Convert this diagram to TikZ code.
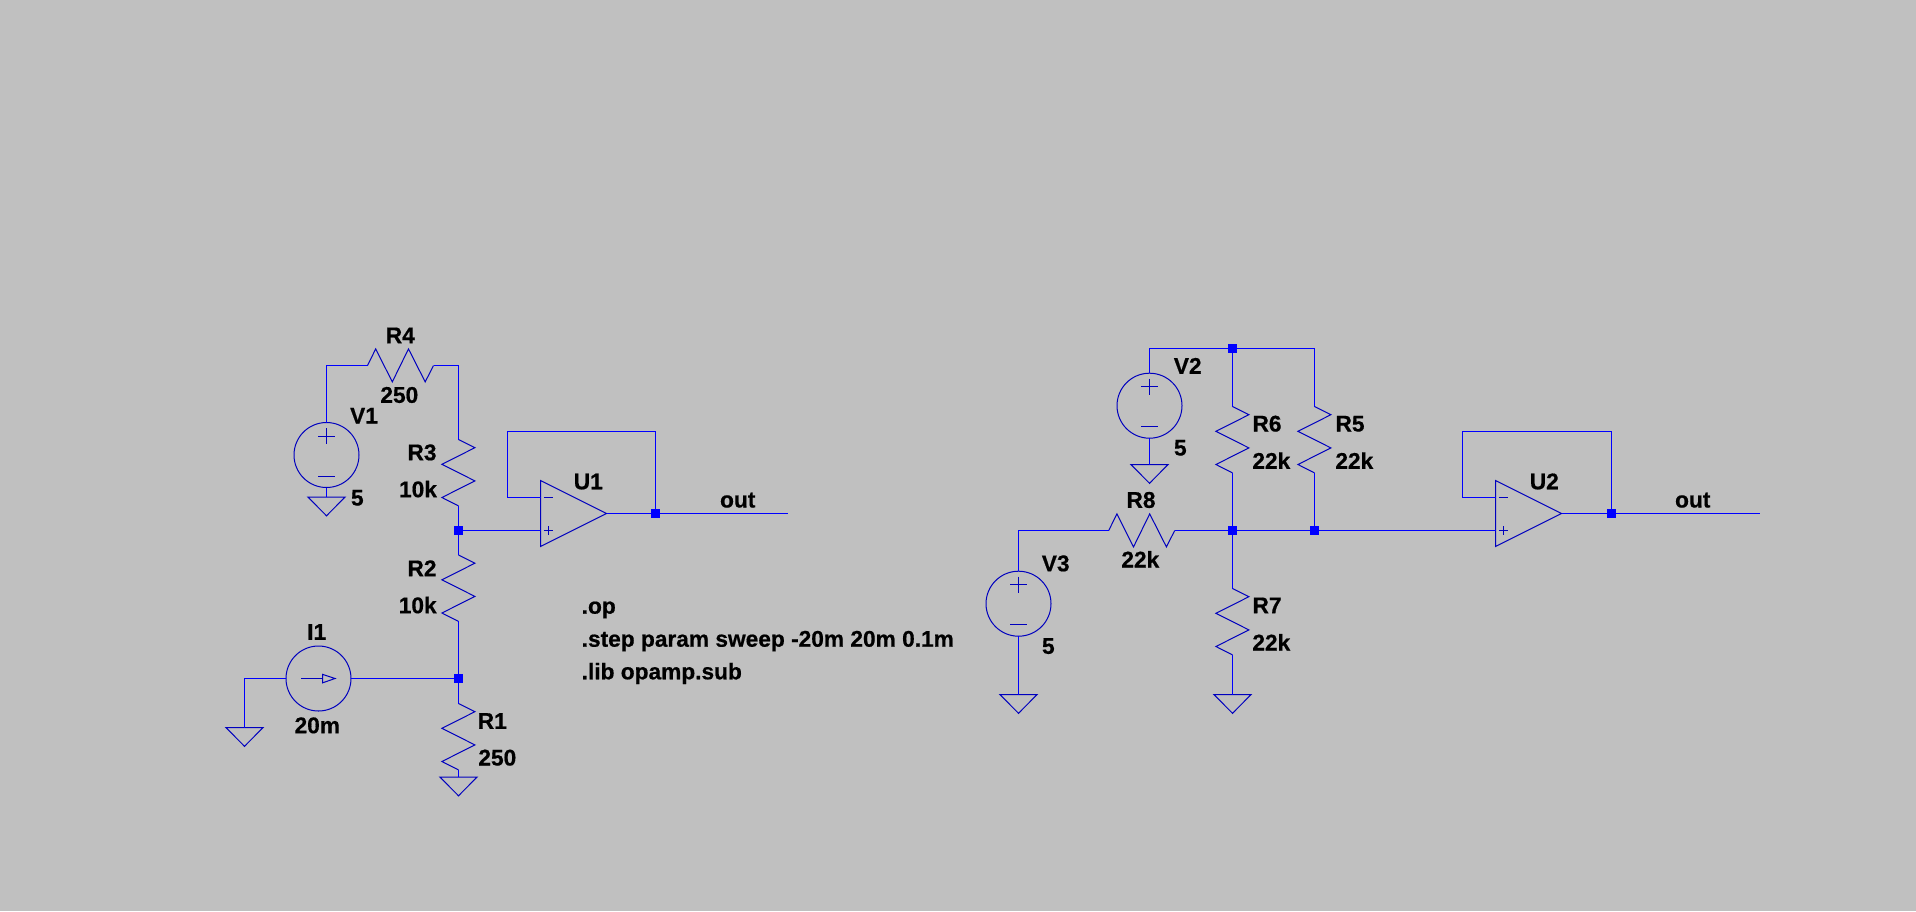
\documentclass[tikz,border=0pt]{standalone}
\usepackage{fontspec}
\setmainfont[BoldFeatures={FakeBold=0.6}]{Liberation Sans}
\definecolor{bg}{RGB}{192,192,192}
\definecolor{wirec}{RGB}{0,0,255}
\definecolor{symc}{RGB}{0,0,190}
\tikzset{
  wire/.style={draw=wirec,line width=1.4pt,line join=miter},
  sym/.style={draw=symc,line width=1pt,line join=miter},
  dotj/.style={rectangle,fill=wirec,minimum size=9pt,inner sep=0pt,outer sep=0pt},
  lab/.style={anchor=base,inner sep=0pt,outer sep=0pt,font=\fontsize{22.7}{24}\selectfont\bfseries,text=black},
  dirl/.style={anchor=base west,inner sep=0pt,outer sep=0pt,font=\fontsize{22.7}{24}\selectfont\bfseries,text=black}
}
% vertical resistor: name, x, top y
\newcommand{\vres}[3]{%
  \coordinate (#1a) at (#2,#3);
  \coordinate (#1b) at (#2,#3+66.4);
  \draw[sym] (#2,#3) -- (#2+16.4,#3+8.2) -- (#2-16.6,#3+24.8) -- (#2+16.4,#3+41.4) -- (#2-16.6,#3+58) -- (#2,#3+66.4);
}
% horizontal resistor: name, left x, y
\newcommand{\hres}[3]{%
  \coordinate (#1a) at (#2,#3);
  \coordinate (#1b) at (#2+66,#3);
  \draw[sym] (#2,#3) -- (#2+8.2,#3-16.6) -- (#2+24.8,#3+16.4) -- (#2+41,#3-16.6) -- (#2+57.7,#3+16.4) -- (#2+66,#3);
}
% ground: name, x, top y
\newcommand{\gnd}[3]{%
  \coordinate (#1) at (#2,#3);
  \draw[sym] (#2-18.6,#3) -- (#2+18.6,#3) -- (#2,#3+18.8) -- cycle;
}
% voltage source: name, x, centre y
\newcommand{\vsrc}[3]{%
  \node[circle,sym,minimum size=65pt,inner sep=0pt,outer sep=0pt] (#1) at (#2,#3) {};
  \draw[sym] (#2-8.3,#3-19) -- (#2+8.3,#3-19) (#2,#3-27) -- (#2,#3-11);
  \draw[sym] (#2-8.3,#3+21) -- (#2+8.3,#3+21);
}
% opamp: name, left x
\newcommand{\opamp}[2]{%
  \coordinate (#1p) at (#2,530.5);
  \coordinate (#1m) at (#2,497.5);
  \coordinate (#1o) at (#2+66,513.5);
  \draw[sym] (#2,480.5) -- (#2+66,513.5) -- (#2,546.5) -- cycle;
  \draw[sym] (#2+3.4,497.5) -- (#2+12.4,497.5);
  \draw[sym] (#2+3.4,530.5) -- (#2+12.4,530.5) (#2+7.9,526) -- (#2+7.9,535);
}
\begin{document}
\begin{tikzpicture}[x=1pt,y=-1pt]
\useasboundingbox (0,0) rectangle (1916,911);
\fill[bg] (0,0) rectangle (1916,911);

% ---------- left circuit
\vsrc{V1}{326.5}{455}
\gnd{G1}{326.5}{497}
\hres{R4}{367.5}{365.5}
\vres{R3}{458.5}{439.5}
\vres{R2}{458.5}{555}
\vres{R1}{458.5}{703.5}
\gnd{G2}{458.5}{777}
\gnd{G3}{244.5}{727.5}
\opamp{U1}{540.5}
\node[circle,sym,minimum size=65pt,inner sep=0pt,outer sep=0pt] (I1) at (318.5,678.5) {};
\draw[sym] (301,678.5) -- (322.7,678.5);
\draw[sym] (322.7,674.4) -- (335,678.5) -- (322.7,682.8) -- cycle;

\node[dotj] (J1) at (458.5,530.5) {};
\node[dotj] (J2) at (458.5,678.5) {};
\node[dotj] (J3) at (655.5,513.5) {};
\coordinate (O1) at (787.7,513.5);

\draw[wire] (V1.north) |- (R4a);
\draw[wire] (R4b) -| (R3a);
\draw[wire] (V1.south) -- (G1);
\draw[wire] (R3b) -- (J1.center);
\draw[wire] (J1.center) -- (R2a);
\draw[wire] (R2b) -- (J2.center);
\draw[wire] (J2.center) -- (R1a);
\draw[wire] (R1b) -- (G2);
\draw[wire] (J1.center) -- (U1p);
\draw[wire] (U1m) -- (507.5,497.5) |- (655.5,431.5) -- (J3.center);
\draw[wire] (U1o) -- (J3.center);
\draw[wire] (J3.center) -- (O1);
\draw[wire] (I1.east) -- (J2.center);
\draw[wire] (I1.west) -| (G3);

\node[lab] (tR4) at (400.3,343.2) {R4};
\node[lab] (tR4v) at (399.3,402.8) {250};
\node[lab] (tV1) at (364,423.5) {V1};
\node[lab] (tV1v) at (357.3,505.5) {5};
\node[lab] (tR3) at (422,460.2) {R3};
\node[lab] (tR3v) at (418,497.2) {10k};
\node[lab] (tR2) at (422,576.2) {R2};
\node[lab] (tR2v) at (417.7,613.2) {10k};
\node[lab] (tR1) at (492.3,728.8) {R1};
\node[lab] (tR1v) at (497.3,765.5) {250};
\node[lab] (tI1) at (316.7,639.8) {I1};
\node[lab] (tI1v) at (317.3,733.2) {20m};
\node[lab] (tU1) at (588.3,489.3) {U1};
\node[lab] (tO1) at (737.7,507.5) {out};
\node[dirl] (d1) at (581.7,613.7) {.op};
\node[dirl] (d2) at (581.7,646.7) {.step param sweep -20m 20m 0.1m};
\node[dirl] (d3) at (581.7,679.3) {.lib opamp.sub};

% ---------- right circuit
\vsrc{V2}{1149.5}{405.7}
\gnd{G4}{1149.5}{464.5}
\vres{R6}{1232.5}{406.5}
\vres{R5}{1314.5}{406.5}
\hres{R8}{1108.7}{530.5}
\vres{R7}{1232.5}{588.5}
\gnd{G5}{1232.5}{694.5}
\vsrc{V3}{1018.5}{603.7}
\gnd{G6}{1018.5}{694.5}
\opamp{U2}{1495.5}

\node[dotj] (J4) at (1232.5,348.5) {};
\node[dotj] (J5) at (1232.5,530.5) {};
\node[dotj] (J6) at (1314.5,530.5) {};
\node[dotj] (J7) at (1611.5,513.5) {};
\coordinate (O2) at (1759.7,513.5);

\draw[wire] (V2.north) |- (J4.center);
\draw[wire] (J4.center) -- (R6a);
\draw[wire] (J4.center) -| (R5a);
\draw[wire] (V2.south) -- (G4);
\draw[wire] (R6b) -- (J5.center);
\draw[wire] (R5b) -- (J6.center);
\draw[wire] (V3.north) |- (R8a);
\draw[wire] (V3.south) -- (G6);
\draw[wire] (R8b) -- (J5.center);
\draw[wire] (J5.center) -- (J6.center);
\draw[wire] (J6.center) -- (U2p);
\draw[wire] (J5.center) -- (R7a);
\draw[wire] (R7b) -- (G5);
\draw[wire] (U2m) -- (1462.5,497.5) |- (1611.5,431.5) -- (J7.center);
\draw[wire] (U2o) -- (J7.center);
\draw[wire] (J7.center) -- (O2);

\node[lab] (tV2) at (1187.7,373.8) {V2};
\node[lab] (tV2v) at (1180.3,455.5) {5};
\node[lab] (tR6) at (1267,431.5) {R6};
\node[lab] (tR6v) at (1271.3,468.8) {22k};
\node[lab] (tR5) at (1350,431.5) {R5};
\node[lab] (tR5v) at (1354.3,468.8) {22k};
\node[lab] (tR8) at (1141,507.8) {R8};
\node[lab] (tR8v) at (1140.3,567.5) {22k};
\node[lab] (tV3) at (1055.7,571.2) {V3};
\node[lab] (tV3v) at (1048.3,653.8) {5};
\node[lab] (tR7) at (1267,613.2) {R7};
\node[lab] (tR7v) at (1271.3,650.5) {22k};
\node[lab] (tU2) at (1544.3,489.3) {U2};
\node[lab] (tO2) at (1692.7,507.5) {out};
\end{tikzpicture}
\end{document}
